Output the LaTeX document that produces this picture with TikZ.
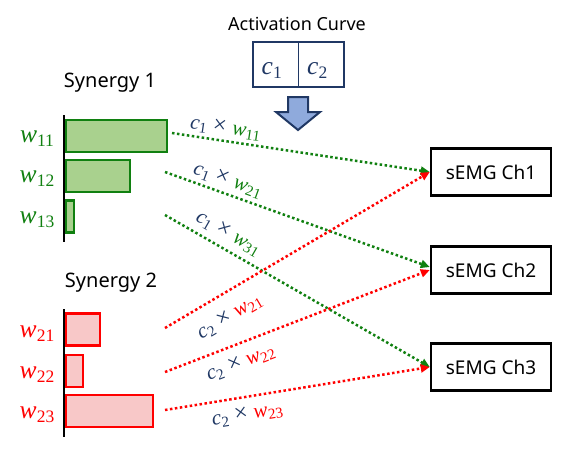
\documentclass[tikz,border=0pt]{standalone}
\usepackage{amsmath}
\usepackage{fontspec}
\setmainfont{Noto Sans}
\newfontfamily\varfont{Liberation Serif}
\usepackage{tikz}
\usetikzlibrary{arrows.meta}
\definecolor{navy}{RGB}{32,56,100}
\definecolor{arrowblue}{RGB}{143,170,220}
\definecolor{sgreen}{RGB}{16,128,16}
\definecolor{sgfill}{RGB}{169,209,142}
\definecolor{sred}{RGB}{255,0,0}
\definecolor{srfill}{RGB}{248,200,200}
\newcommand{\wbig}[2]{{\fontsize{25.5}{29}\selectfont\itshape #1}{\fontsize{17.5}{20}\selectfont\raisebox{-4pt}{#2}}}
\newcommand{\wsmall}[2]{{\fontsize{21}{24}\selectfont\itshape #1}{\fontsize{15}{17}\selectfont\raisebox{-3pt}{#2}}}
\newcommand{\prodof}[5]{\wsmall{c}{#1}\hspace{6pt}{\fontsize{24}{26}\selectfont ×}\hspace{6pt}\textcolor{#2}{\wsmall{#3}{#4#5}}}
\tikzset{
	chbox/.style={draw, line width=2.5pt, minimum width=120pt, minimum height=47pt, font=\fontsize{19}{23}\selectfont},
	cell/.style={draw=navy, line width=1.5pt, minimum width=45.5pt, minimum height=45pt},
	gbar/.style={draw=sgreen, fill=sgfill, line width=2.2pt},
	rbar/.style={draw=sred, fill=srfill, line width=2.2pt},
	gdots/.style={sgreen, line width=2.5pt, dash pattern=on 2.5pt off 2.5pt, -{Triangle[length=9pt,width=8pt]}},
	rdots/.style={sred, line width=2.5pt, dash pattern=on 2.5pt off 2.5pt, -{Triangle[length=9pt,width=8pt]}},
	wlab/.style={font=\varfont, inner sep=0pt},
	prodlab/.style={text=navy, sloped, inner sep=1pt, font=\varfont}
}

\begin{document}
\begin{tikzpicture}[x=1pt, y=-1pt]
			\useasboundingbox (0,0) rectangle (569,448);
			\node[font=\fontsize{18}{22}\selectfont] (title) at (297,24) {Activation Curve};
			\node[cell] (c1) at (275.75,64.5) {};
			\node[cell] (c2) at (321.25,64.5) {};
			\node[wlab, text=navy] (c1txt) at ([xshift=-4pt,yshift=-6pt]c1.center) {\wbig{c}{1}};
			\node[wlab, text=navy] (c2txt) at ([xshift=-4pt,yshift=-6pt]c2.center) {\wbig{c}{2}};
			\draw[navy, fill=arrowblue, line width=2pt, line join=miter] (288,97) -- (308,97) -- (308,112) -- (320,112) -- (298,130) -- (276,112) -- (288,112) -- cycle;
			\node[font=\fontsize{20}{24}\selectfont] (syn1) at (110,83) {Synergy 1};
			\node[font=\fontsize{20}{24}\selectfont] (syn2) at (111,283) {Synergy 2};
			\foreach \i/\y/\len in {1/136/167, 2/176/130, 3/216.5/74}{
				\draw[gbar] (66,\y-16) rectangle (\len,\y+16);
				\node[wlab, text=sgreen] (wg\i) at (37,\y+3) {\wbig{w}{1\i}};
			}
			\foreach \i/\y/\len in {1/329.5/100, 2/371/83, 3/411/153}{
				\draw[rbar] (66,\y-16) rectangle (\len,\y+16);
				\node[wlab, text=sred] (wr\i) at (37,\y+4) {\wbig{w}{2\i}};
			}
			\draw[line width=2.2pt] (64,115) -- (64,242);
			\draw[line width=2.2pt] (64,309) -- (64,437);
			\node[chbox] (ch1) at (491,172) {sEMG Ch1};
			\node[chbox] (ch2) at (491,270) {sEMG Ch2};
			\node[chbox] (ch3) at (491,367) {sEMG Ch3};
			\coordinate (g1) at (172,133);
			\coordinate (g2) at (165,172);
			\coordinate (g3) at (165,215);
			\coordinate (r1) at (165,328);
			\coordinate (r2) at (165,372);
			\coordinate (r3) at (165,410);
			\draw[gdots] (g1) -- (ch1.west) node[prodlab, pos=.2, above=2pt] {\prodof{1}{sgreen}{w}{1}{1}};
			\draw[gdots] (g2) -- ([yshift=3pt]ch2.west) node[prodlab, pos=.22, above=3pt] {\prodof{1}{sgreen}{w}{2}{1}};
			\draw[gdots] (g3) -- (ch3.west) node[prodlab, pos=.21, above=5pt] {\prodof{1}{sgreen}{w}{3}{1}};
			\draw[rdots] (r1) -- (ch1.west) node[prodlab, pos=.2, below=13pt] {\prodof{2}{sred}{w}{2}{1}};
			\draw[rdots] (r2) -- (ch2.west) node[prodlab, pos=.26, below=9pt] {\prodof{2}{sred}{w}{2}{2}};
			\draw[rdots] (r3) -- (ch3.west) node[prodlab, pos=.3, below=8pt] {\prodof{2}{sred}{w}{2}{3}};
		\end{tikzpicture}
\end{document}
